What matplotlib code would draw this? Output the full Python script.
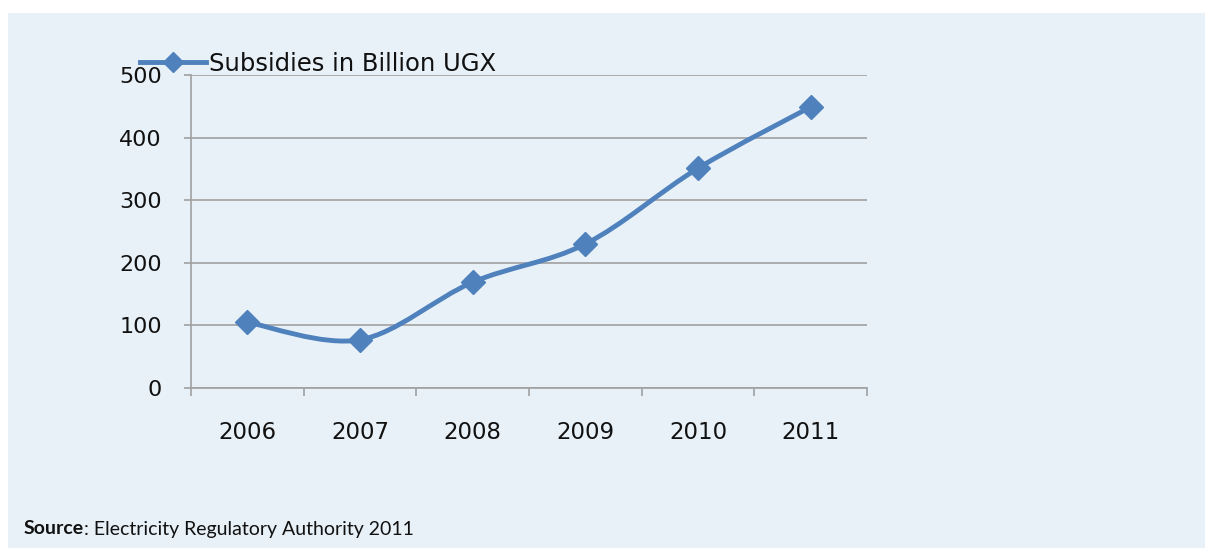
import numpy as np
import matplotlib
matplotlib.use("Agg")
import matplotlib.pyplot as plt
from matplotlib.path import Path
from matplotlib.patches import PathPatch, Rectangle
from matplotlib.lines import Line2D

years = ["2006", "2007", "2008", "2009", "2010", "2011"]
subsidies = [105, 77, 169, 230, 351, 449]
series_name = "Subsidies in Billion UGX"
source_bold = "Source"
source_rest = ": Electricity Regulatory Authority 2011"

blue = "#4F81BD"
grid = "#A0A0A0"
bg = "#E8F1F8"

fig = plt.figure(figsize=(12.05, 5.48), dpi=100)
fig.patch.set_facecolor("white")
fig.patches.append(Rectangle((8 / 1205, 0), 1 - 8 / 1205, 1 - 13 / 548,
                             transform=fig.transFigure, facecolor=bg,
                             edgecolor="none", zorder=-5))

ax = fig.add_axes([191 / 1205, 160 / 548, 676 / 1205, 313 / 548])
ax.set_facecolor("none")

x = np.arange(len(years), dtype=float)
y = np.array(subsidies, dtype=float)

# smoothed line like excel: bezier segments through the points
verts = [(x[0], y[0])]
codes = [Path.MOVETO]
n = len(x)
for i in range(n - 1):
    p0 = np.array([x[max(i - 1, 0)], y[max(i - 1, 0)]])
    p1 = np.array([x[i], y[i]])
    p2 = np.array([x[i + 1], y[i + 1]])
    p3 = np.array([x[min(i + 2, n - 1)], y[min(i + 2, n - 1)]])
    c1 = p1 + (p2 - p0) / 6
    c2 = p2 - (p3 - p1) / 6
    verts += [tuple(c1), tuple(c2), tuple(p2)]
    codes += [Path.CURVE4] * 3
ax.add_patch(PathPatch(Path(verts, codes), facecolor="none", edgecolor=blue,
                       lw=3.5, capstyle="round", joinstyle="round", zorder=3))
ax.plot(x, y, ls="none", marker="D", ms=12, color=blue, zorder=4)

ax.set_xlim(-0.5, n - 0.5)
ax.set_ylim(0, 500)
ax.set_yticks(range(0, 501, 100))
ax.set_xticks(x)
ax.set_xticklabels(years)
ax.set_xticks(np.arange(-0.5, n, 1.0), minor=True)
ax.grid(axis="y", color=grid, lw=1.2)
ax.set_axisbelow(True)
for s in ["top", "right"]:
    ax.spines[s].set_visible(False)
for s in ["left", "bottom"]:
    ax.spines[s].set_color(grid)
    ax.spines[s].set_linewidth(1.2)
ax.tick_params(axis="y", length=5, width=1.2, color=grid, pad=16,
               labelsize=16, labelcolor="#111111")
ax.tick_params(axis="x", which="major", length=0, pad=24,
               labelsize=16.5, labelcolor="#111111")
ax.tick_params(axis="x", which="minor", length=6, width=1.2, color=grid)

handle = Line2D([], [], color=blue, lw=3.5, marker="D", ms=10)
leg = fig.legend([handle], [series_name], loc="center left",
                 bbox_to_anchor=(140 / 1205, 1 - 64 / 548), frameon=False,
                 borderpad=0, borderaxespad=0, handlelength=2.7,
                 handletextpad=0.12, prop={"family": "DejaVu Sans", "size": 17.5})
for t in leg.get_texts():
    t.set_color("#111111")

t1 = fig.text(24 / 1205, 1 - 529 / 548, source_bold, fontweight="bold",
              family="Lato", fontsize=14, va="center", color="#111111")
fig.canvas.draw()
bb = t1.get_window_extent()
fig.text(bb.x1 / fig.bbox.width, 1 - 529 / 548, source_rest,
         family="Lato", fontsize=14, va="center", color="#111111")

fig.savefig("out.png", dpi=100, facecolor="white")
